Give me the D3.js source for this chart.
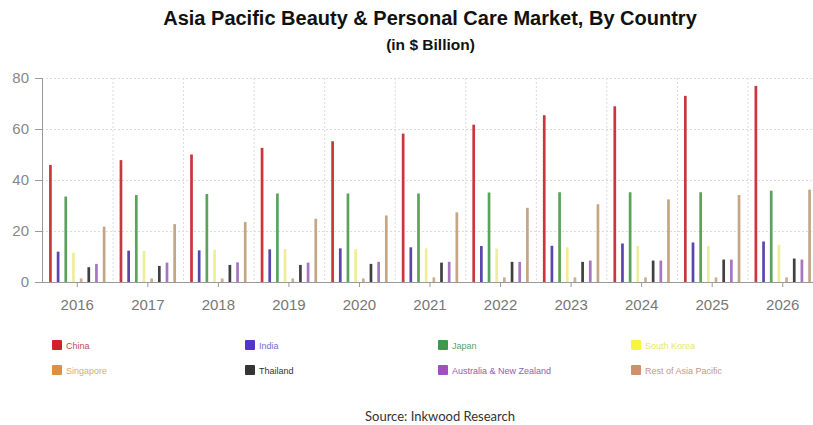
<!DOCTYPE html>
<html><head><meta charset="utf-8">
<script src="https://cdn.jsdelivr.net/npm/d3@7"></script>
<style>body{margin:0;background:#fff}svg{display:block}</style>
</head><body><svg id="c" width="813" height="425"></svg>
<script>
const years = ["2016","2017","2018","2019","2020","2021","2022","2023","2024","2025","2026"];
const seriesNames = ["China","India","Japan","South Korea","Singapore","Thailand","Australia & New Zealand","Rest of Asia Pacific"];
const china     = [45.9,47.8,50.0,52.6,55.2,58.2,61.7,65.4,68.9,73.0,76.9];
const india     = [11.9,12.3,12.4,12.8,13.2,13.6,14.1,14.2,15.1,15.5,15.9];
const japan     = [33.5,34.1,34.5,34.7,34.7,34.7,35.1,35.2,35.2,35.2,35.8];
const southKorea= [11.5,12.2,12.6,12.9,12.9,13.2,13.1,13.6,14.1,14.1,14.6];
const singapore = [1.4,1.4,1.4,1.4,1.4,1.8,1.8,1.8,1.8,1.8,1.8];
const thailand  = [5.8,6.3,6.7,6.7,7.1,7.6,7.9,7.9,8.4,8.8,9.2];
const anz       = [7.1,7.6,7.7,7.6,7.9,7.9,7.9,8.4,8.4,8.8,8.8];
const restAP    = [21.7,22.7,23.5,24.8,26.1,27.3,29.1,30.5,32.4,34.1,36.2];
const yTicks = [0,20,40,60,80];
const allSeries = [china,india,japan,southKorea,singapore,thailand,anz,restAP];

const barColors = ["#c9363d","#5a46ad","#5aa35c","#eeee9a","#c8b090","#404040","#a676be","#c4a686"];
const legendColors = ["#d0202c","#5434d0","#3c9a4c","#f6f640","#e0903c","#353535","#a050c0","#d09070"];
const legendText = ["#c04a55","#7a6cc8","#5aa060","#e6e670","#e0a86c","#333333","#9060b0","#c49888"];

const svg = d3.select("#c");
const mLeft = 42, mRight = 818, mTop = 78, mBottom = 282;
const x0 = d3.scaleBand().domain(years).range([mLeft, mRight]).paddingInner(0.13).paddingOuter(0.065);
const x1 = d3.scaleBand().domain(seriesNames).range([0, x0.bandwidth()]);
const y = d3.scaleLinear().domain([0,80]).range([mBottom, mTop]);
const step = x0.step();

// grid
const g = svg.append("g");
g.selectAll("line.h").data(yTicks.filter(d=>d>0)).join("line")
  .attr("x1", mLeft).attr("x2", mRight).attr("y1", d=>y(d)+0.5).attr("y2", d=>y(d)+0.5)
  .attr("stroke","#dcdcdc").attr("stroke-dasharray","2,2");
g.selectAll("line.v").data(d3.range(1, years.length)).join("line")
  .attr("x1", i=>mLeft+i*step+0.5).attr("x2", i=>mLeft+i*step+0.5).attr("y1", mTop).attr("y2", mBottom)
  .attr("stroke","#dcdcdc").attr("stroke-dasharray","2,2");

// bars
const bw = 2.7;
seriesNames.forEach((s, si) => {
  svg.append("g").selectAll("rect").data(allSeries[si]).join("rect")
    .attr("x", (d,i)=>x0(years[i]) + x1(s) + x1.bandwidth()/2 - bw/2)
    .attr("y", d=>y(d)).attr("width", bw).attr("height", d=>y(0)-y(d))
    .attr("fill", barColors[si]);
});

// axes
const yAxis = svg.append("g").attr("transform",`translate(${mLeft},0)`)
  .call(d3.axisLeft(y).tickValues(yTicks).tickSize(7).tickPadding(6));
yAxis.select(".domain").attr("stroke","#999");
yAxis.selectAll(".tick line").attr("stroke","#999");
yAxis.selectAll("text").attr("fill","#888").style("font","15px 'Liberation Sans', Arial, sans-serif");

const xAxis = svg.append("g").attr("transform",`translate(0,${mBottom})`)
  .call(d3.axisBottom(x0).tickSize(5).tickPadding(12).tickSizeOuter(0));
xAxis.select(".domain").attr("stroke","#999").attr("d", `M${mLeft},0.5H${mRight}`);
xAxis.selectAll(".tick line").attr("stroke","#999");
xAxis.selectAll("text").attr("fill","#777").style("font","15px 'Liberation Sans', Arial, sans-serif");

// titles
svg.append("text").attr("x",430).attr("y",25).attr("text-anchor","middle")
  .style("font","bold 20px 'Liberation Sans', Arial, sans-serif").attr("fill","#111")
  .text("Asia Pacific Beauty & Personal Care Market, By Country");
svg.append("text").attr("x",430.5).attr("y",50).attr("text-anchor","middle")
  .style("font","bold 15.5px 'Liberation Sans', Arial, sans-serif").attr("fill","#111")
  .text("(in $ Billion)");

// legend
const colX = [52, 245, 438, 631];
const rowY = [345, 370];
seriesNames.forEach((s, i) => {
  const cx = colX[i%4], cy = rowY[Math.floor(i/4)];
  svg.append("rect").attr("x",cx).attr("y",cy-5).attr("width",10).attr("height",10).attr("rx",1)
    .attr("fill",legendColors[i]);
  svg.append("text").attr("x",cx+14).attr("y",cy+3.5).attr("fill",legendText[i])
    .style("font","9px 'Liberation Sans', Arial, sans-serif").text(s);
});

svg.append("text").attr("x",440).attr("y",421).attr("text-anchor","middle")
  .style("font","13px Lato, 'Open Sans', sans-serif").attr("fill","#333")
  .text("Source: Inkwood Research");
</script></body></html>
